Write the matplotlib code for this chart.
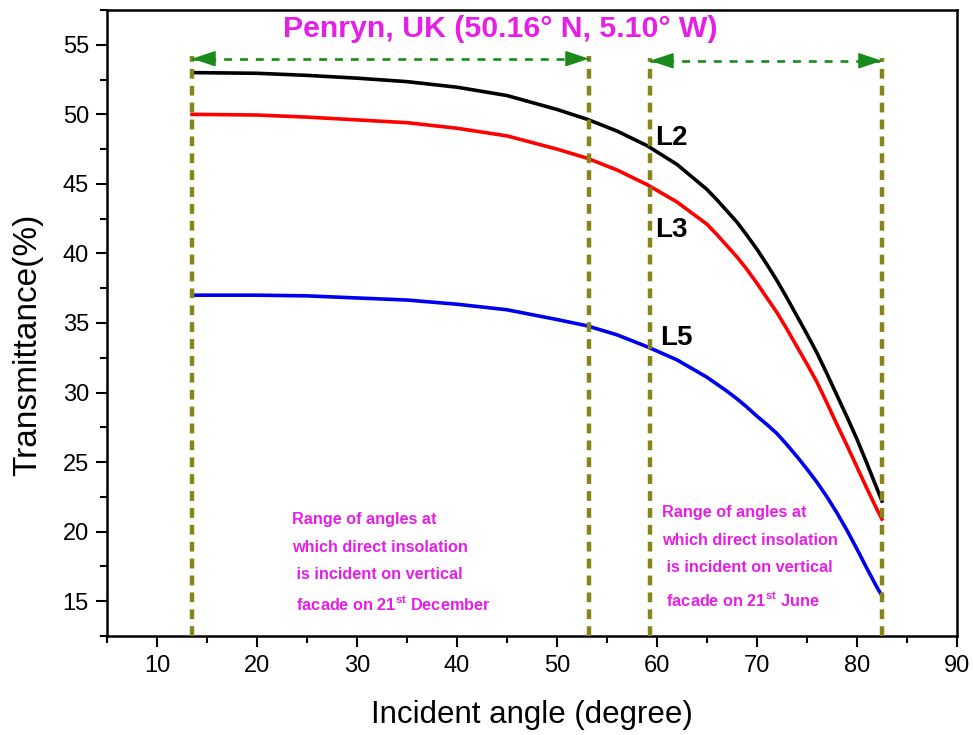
import matplotlib
matplotlib.use("Agg")
import matplotlib.pyplot as plt
from matplotlib.ticker import MultipleLocator

plt.rcParams['font.family'] = ['Liberation Sans', 'DejaVu Sans']
plt.rcParams['mathtext.fontset'] = 'custom'
plt.rcParams['mathtext.rm'] = 'Liberation Sans:bold'
plt.rcParams['mathtext.it'] = 'Liberation Sans:bold'
plt.rcParams['mathtext.bf'] = 'Liberation Sans:bold'

# incident angle (degree)
angle = [13.5, 20, 25, 30, 35, 40, 45, 50, 53, 56, 59, 62, 65, 66, 67, 68, 69,
         70, 71, 72, 73, 74, 75, 76, 77, 78, 79, 80, 81, 82, 82.5]
# transmittance (%) per layer
t_L2 = [53.0, 52.95, 52.8, 52.6, 52.35, 51.95, 51.35, 50.35, 49.65, 48.8, 47.75,
        46.4, 44.6, 43.85, 43.05, 42.25, 41.3, 40.3, 39.2, 38.05, 36.8, 35.5,
        34.2, 32.85, 31.35, 29.8, 28.25, 26.65, 24.9, 23.1, 22.2]
t_L3 = [50.0, 49.95, 49.8, 49.6, 49.4, 49.0, 48.45, 47.5, 46.85, 46.0, 44.95,
        43.7, 42.1, 41.35, 40.55, 39.75, 38.85, 37.85, 36.8, 35.75, 34.55, 33.3,
        32.05, 30.75, 29.25, 27.7, 26.2, 24.65, 23.1, 21.6, 20.9]
t_L5 = [37.0, 37.0, 36.95, 36.8, 36.65, 36.35, 35.95, 35.25, 34.8, 34.15, 33.3,
        32.35, 31.1, 30.6, 30.1, 29.55, 28.95, 28.3, 27.7, 27.05, 26.25, 25.4,
        24.5, 23.55, 22.5, 21.35, 20.1, 18.75, 17.35, 16.0, 15.4]

# sun angle ranges on the facade
dec_range = [13.5, 53.2]
jun_range = [59.3, 82.5]

magenta = '#e61ee6'
olive = '#858519'
green = '#1a8a1a'

fig = plt.figure(figsize=(9.73, 7.35), dpi=100)
ax = fig.add_axes([0.110, 0.1347, 0.8735, 0.8517])

for t, c in [(t_L2, 'black'), (t_L3, 'red'), (t_L5, '#0000ee')]:
    ax.plot(angle, t, color=c, lw=2.6, zorder=3, solid_joinstyle='round')

# range markers: olive dashed verticals + green double arrow
for (x0, x1), ya in [(dec_range, 54.0), (jun_range, 53.85)]:
    for xv in (x0, x1):
        ax.plot([xv, xv], [12.5, ya + 0.2], color=olive, lw=3.2,
                ls=(0, (2.2, 1.6)), zorder=4)
    ax.plot([x0, x1], [ya, ya], color=green, lw=1.9, ls=(0, (3, 3)), zorder=5)
    for tip, back in [(x0, x0 + 0.1), (x1, x1 - 0.1)]:
        ax.annotate('', xy=(tip, ya), xytext=(back, ya),
                    arrowprops=dict(arrowstyle='-|>,head_length=0.75,head_width=0.25',
                                    color=green, lw=1, mutation_scale=20,
                                    shrinkA=0, shrinkB=0), zorder=5)

ax.text(44.3, 56.1, 'Penryn, UK (50.16° N, 5.10° W)', color=magenta,
        fontsize=21.8, fontweight='bold', ha='center', va='center')

ax.text(59.85, 48.3, 'L2', fontsize=20, fontweight='bold', va='center')
ax.text(59.85, 41.7, 'L3', fontsize=20, fontweight='bold', va='center')
ax.text(60.35, 33.9, 'L5', fontsize=20, fontweight='bold', va='center')

# note blocks (baseline positions)
dec_lines = ['Range of angles at', 'which direct insolation',
             ' is incident on vertical', ' facade on 21$^{st}$ December']
jun_lines = ['Range of angles at', 'which direct insolation',
             ' is incident on vertical', ' facade on 21$^{st}$ June']
dec_y = [20.57, 18.56, 16.63, 14.34]
jun_y = [21.03, 19.06, 17.09, 14.69]
for s, y in zip(dec_lines, dec_y):
    ax.text(23.5, y, s, color=magenta, fontsize=11.7,
            fontweight='bold', ha='left', va='baseline')
for s, y in zip(jun_lines, jun_y):
    ax.text(60.55, y, s, color=magenta, fontsize=11.7,
            fontweight='bold', ha='left', va='baseline')

ax.set_xlim(5, 90)
ax.set_ylim(12.5, 57.5)
ax.xaxis.set_major_locator(MultipleLocator(10))
ax.xaxis.set_minor_locator(MultipleLocator(5))
ax.yaxis.set_major_locator(MultipleLocator(5))
ax.yaxis.set_minor_locator(MultipleLocator(2.5))
ax.set_xticks([10, 20, 30, 40, 50, 60, 70, 80, 90])
ax.tick_params(which='both', direction='out', width=1.5, labelsize=17)
ax.tick_params(which='major', length=8)
ax.tick_params(which='minor', length=5)
ax.tick_params(axis='y', pad=5)
ax.tick_params(axis='x', pad=6)
for sp in ax.spines.values():
    sp.set_linewidth(1.8)

ax.set_xlabel('Incident angle (degree)', fontsize=22.5)
ax.set_ylabel('Transmittance(%)', fontsize=24)
ax.xaxis.set_label_coords(0.5, -0.126)
ax.xaxis.label.set_va('center')
ax.yaxis.set_label_coords(-0.093, 0.465)
ax.yaxis.label.set_va('center')

fig.savefig('out.png', dpi=100)
